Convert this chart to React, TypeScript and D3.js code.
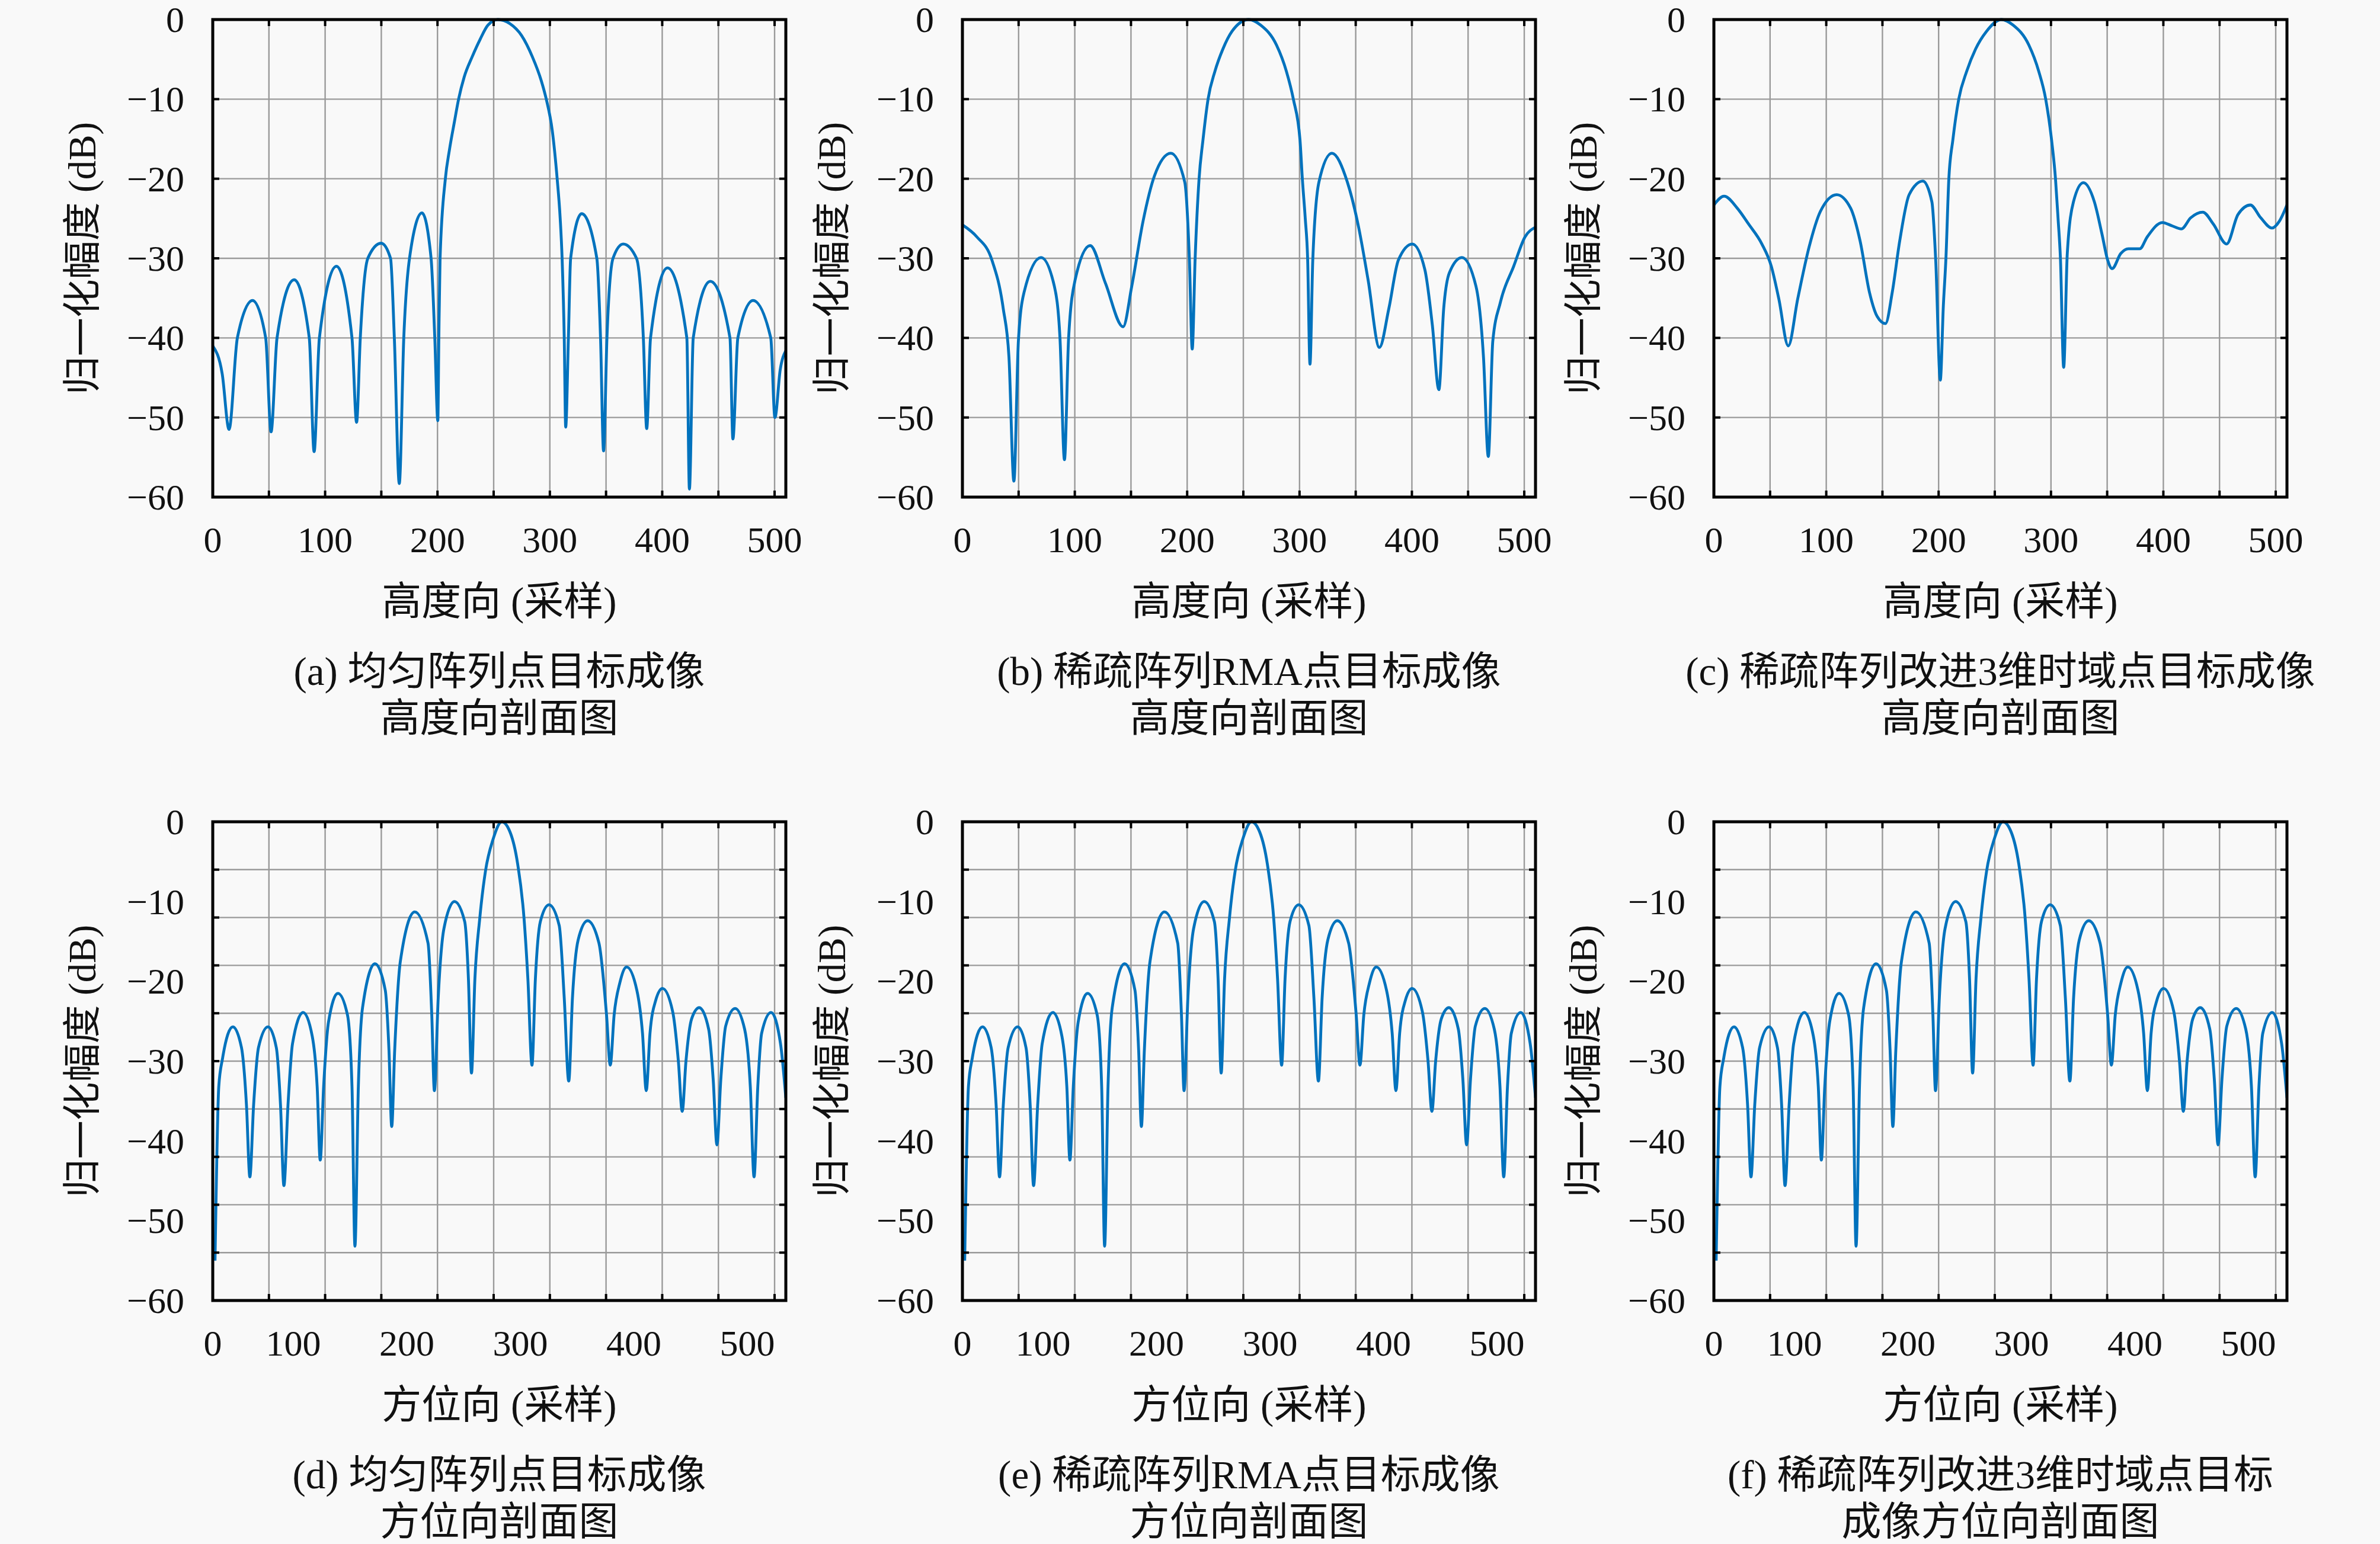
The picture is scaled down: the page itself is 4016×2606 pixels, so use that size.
import * as d3 from "d3";

// canvas and panel geometry (px)
const W = 4016;
const H = 2606;
const colLeft = [359, 1624, 2892];
const plotW = 967;
const rowTop = [33, 1387];
const plotH = [806, 808];

const FONT = "'Liberation Serif', 'Noto Sans CJK SC', serif";
const LINE = "#0072BD";

// ---- axes ----
// the grid/tick-mark positions are the same in every panel
const gridDomain = [0, 510];
const xGridValues = [0, 50, 100, 150, 200, 250, 300, 350, 400, 450, 500];
const elevDomain = [0, 510];
const aziDomain = [29, 534];
const elevXTicks = [0, 100, 200, 300, 400, 500];
const aziXTicks = [100, 200, 300, 400, 500];
const yTickValues = [0, -10, -20, -30, -40, -50, -60];
const elevYGrid = [0, -10, -20, -30, -40, -50, -60];
const aziYGrid = [0, -6, -12, -18, -24, -30, -36, -42, -48, -54, -60];

// ---- profiles: [sample, dB] ----
const elevationUniform: [number, number][] = [
  [0, -41.0], [8.4, -44.5], [14.5, -51.5],
  [21.9, -40], [35.4, -35.3], [47.1, -40], [51.9, -51.8],
  [57.2, -40], [72.4, -32.7], [85.9, -40], [90.2, -54.3],
  [94.9, -40], [110.1, -31.0], [123.9, -40], [128.0, -50.6],
  [131.3, -40], [138.0, -30], [149.8, -28.1], [158.2, -30], [161.6, -40], [166.0, -58.3],
  [170.0, -40], [175.1, -30], [186.2, -24.3], [194.3, -30], [197.6, -40], [200.3, -50.4],
  [201.2, -40], [202.3, -30], [207.0, -20], [210.6, -16.4], [215.0, -12.9], [218.8, -10],
  [223.8, -7.2], [230.8, -4.7], [237.9, -2.5], [244.9, -0.7], [253.7, 0], [264.3, -0.5],
  [274.8, -2], [284.5, -4.7], [292.4, -7.7], [296.8, -10], [302.1, -13.9], [306.5, -20],
  [309.2, -25], [310.9, -30], [312.8, -40], [314.1, -51.2],
  [316.5, -40], [318.5, -30], [328.3, -24.4], [341.8, -30], [345.1, -40], [347.8, -54.2],
  [350.8, -40], [356.2, -30], [365.3, -28.2], [377.1, -30], [383.2, -40], [386.2, -51.4],
  [389.6, -40], [404.7, -31.2], [421.9, -40], [424.2, -59],
  [427.6, -40], [442.8, -32.9], [460.3, -40], [462.9, -52.7],
  [467.3, -40], [480.8, -35.3], [496.6, -40], [500.3, -50],
  [505, -44], [510, -41.6],
];

const elevationRMA: [number, number][] = [
  [0, -25.8], [12.8, -27.3], [26.2, -30.2], [36.3, -36.3], [41.4, -42.4], [45.8, -58],
  [49.8, -40.4], [54.8, -34.3], [70.0, -29.9], [81.8, -33.5], [86.8, -40], [90.8, -55.3],
  [94.5, -40], [100.3, -32.7], [113.7, -28.4], [127.2, -33.1], [143.0, -38.6],
  [150.7, -33.5], [160.8, -25.3], [171.0, -19.6], [185.5, -16.8], [197.8, -20.4],
  [202.0, -30.2], [204.5, -41.4],
  [207.1, -30], [210.6, -20], [214.1, -15.1], [218.6, -10], [224.7, -6.5], [231.8, -3.7],
  [239.8, -1.5], [254.8, 0], [265.4, -0.7], [279.5, -3.2], [288.3, -6.5], [294.5, -10],
  [300.4, -15.1], [302.5, -20], [305.1, -25], [307.2, -30], [309.3, -43.3],
  [311.8, -30.2], [317.3, -20.4], [328.8, -16.8], [342.5, -20.4], [352.6, -26.1],
  [361.0, -32.7], [371.1, -41.2], [379.5, -36.3], [388.0, -30.2], [400.4, -28.2],
  [411.5, -31.4], [418.2, -38.4], [424.0, -46.5],
  [428.3, -36.3], [433.4, -31.8], [444.5, -29.9], [457.0, -33.5], [463.7, -42.4], [468.0, -54.9],
  [472.0, -40.4], [478.8, -35.5], [490.6, -31], [500.7, -27.3], [510, -26.1],
];

const elevationImproved: [number, number][] = [
  [0, -23.3], [9.1, -22.2], [20.8, -23.7], [30.9, -25.7], [42.7, -28.2], [51.1, -31],
  [57.8, -35.1], [66.2, -41], [74.6, -35.1], [84.7, -28.6], [94.8, -24.1], [109.3, -22],
  [121.7, -23.7], [130.1, -27.8], [138.5, -34.3], [145.3, -37.3], [152.7, -38.2],
  [158.7, -34.3], [165.4, -27.8], [173.8, -22], [186.0, -20.3], [194.0, -22.9],
  [197.4, -30.2], [201.5, -45.3],
  [204.2, -36], [206.5, -30], [209.1, -20], [212.7, -15.1], [217.9, -10], [225.0, -6.5],
  [232.9, -3.7], [242.5, -1.5], [255.7, 0], [266.3, -0.7], [280.3, -3.2], [289.1, -6.5],
  [295.3, -10], [300.5, -15.1], [304.0, -20], [306.3, -25], [308.4, -30], [311.3, -43.7],
  [314.5, -29.4], [320.0, -22.9], [328.8, -20.5], [338.6, -22.9], [345.3, -26.9],
  [350.4, -30.2], [354.4, -31.3], [362.1, -29.4], [368.9, -28.8], [379.0, -28.8],
  [385.7, -27.3], [399.1, -25.5], [407.5, -25.9], [416.0, -26.3], [424.4, -24.9],
  [435.1, -24.2], [444.5, -25.7], [456.3, -28.2], [466.4, -24.5], [477.5, -23.3],
  [486.6, -24.9], [496.6, -26.2], [503.4, -25.3], [510, -23.3],
];

// the three azimuth profiles (d), (e), (f) coincide in the figure
const azimuthProfile: [number, number][] = [
  [31, -55], [34.3, -33.2], [37.7, -29.6], [46.7, -25.7], [54.3, -28.3], [58.7, -35.5], [61.7, -44.5],
  [65.0, -35.5], [69.3, -28.3], [77.7, -25.7], [85.0, -28.3], [88.7, -35.5], [91.7, -45.6],
  [95.3, -35.5], [99.3, -27.8], [108.7, -23.9], [116.7, -26.9], [121.0, -33.2], [123.7, -42.4],
  [126.7, -33.2], [131.0, -25.1], [139.3, -21.5], [147.7, -24.2], [151.7, -33.2], [154.3, -53.2],
  [157.3, -33.2], [161.0, -23.3], [172.0, -17.8], [181.0, -21.1], [184.3, -28.7], [186.7, -38.2],
  [189.3, -28.7], [194.3, -17.5], [207.0, -11.3], [218.7, -15.2], [222.0, -24.2], [224.3, -33.7],
  [227.7, -22], [232.7, -13.4], [242.0, -10], [251.0, -12.5], [254.3, -19.7], [257.0, -31.5],
  [260.0, -19.7], [264.3, -12.1], [269.3, -6.2], [276.0, -2.2], [283.7, 0], [291.0, -1.3],
  [297.7, -5.3], [303.3, -12.1], [306.7, -19.7], [310.3, -30.5],
  [313.3, -19.7], [317.7, -12.5], [325.3, -10.4], [334.3, -13], [338.7, -22], [342.7, -32.5],
  [346.0, -22], [351.0, -14.8], [359.3, -12.4], [369.3, -15.2], [376.0, -24.2], [379.3, -30.5],
  [382.7, -24.2], [387.7, -20.2], [393.7, -18.2], [402.7, -21.1], [407.7, -26.5], [411.0, -33.7],
  [414.3, -26.5], [419.3, -22.4], [425.3, -20.9], [434.3, -23.8], [439.3, -30], [442.7, -36.3],
  [446.0, -30], [451.0, -24.7], [457.7, -23.3], [466.0, -26], [470.0, -32.3], [473.3, -40.5],
  [476.7, -32.3], [481.0, -25.6], [489.3, -23.4], [497.7, -26], [502.7, -33.2], [506.0, -44.5],
  [509.3, -33.2], [512.7, -26.5], [521.0, -23.9], [529.3, -27.8], [534, -34.6],
];

const yLabel = "归一化幅度 (dB)";
const xLabels = ["高度向 (采样)", "方位向 (采样)"];

const panels = [
  { id: "a", row: 0, col: 0, data: elevationUniform, caption: ["(a) 均匀阵列点目标成像", "高度向剖面图"] },
  { id: "b", row: 0, col: 1, data: elevationRMA, caption: ["(b) 稀疏阵列RMA点目标成像", "高度向剖面图"] },
  { id: "c", row: 0, col: 2, data: elevationImproved, caption: ["(c) 稀疏阵列改进3维时域点目标成像", "高度向剖面图"] },
  { id: "d", row: 1, col: 0, data: azimuthProfile, caption: ["(d) 均匀阵列点目标成像", "方位向剖面图"] },
  { id: "e", row: 1, col: 1, data: azimuthProfile, caption: ["(e) 稀疏阵列RMA点目标成像", "方位向剖面图"] },
  { id: "f", row: 1, col: 2, data: azimuthProfile, caption: ["(f) 稀疏阵列改进3维时域点目标", "成像方位向剖面图"] },
];

const fmt = (v: number) => (v < 0 ? "\u2212" + Math.abs(v) : String(v));

function Panel({ p }: { p: (typeof panels)[number] }) {
  const x0 = colLeft[p.col];
  const y0 = rowTop[p.row];
  const h = plotH[p.row];
  const x1 = x0 + plotW;
  const y1 = y0 + h;
  const top = p.row === 0;

  const gx = d3.scaleLinear().domain(gridDomain).range([x0, x1]);
  const x = d3.scaleLinear().domain(top ? elevDomain : aziDomain).range([x0, x1]);
  const y = d3.scaleLinear().domain([-60, 0]).range([y1, y0]);
  const yGrid = top ? elevYGrid : aziYGrid;

  const path = d3
    .line<[number, number]>()
    .x((d) => x(d[0]))
    .y((d) => y(d[1]))
    .curve(d3.curveMonotoneX)(p.data);

  const tickLen = 11;
  const cx = (x0 + x1) / 2;
  const xTicks = top ? elevXTicks : aziXTicks;

  return (
    <g>
      <clipPath id={`clip-${p.id}`}>
        <rect x={x0} y={y0 - 3} width={plotW} height={h + 6} />
      </clipPath>
      {/* grid */}
      {xGridValues.map((v) => (
        <line key={`gx${v}`} x1={gx(v)} x2={gx(v)} y1={y0} y2={y1} stroke="#9a9a9a" strokeWidth={2.4} />
      ))}
      {yGrid.map((v) => (
        <line key={`gy${v}`} x1={x0} x2={x1} y1={y(v)} y2={y(v)} stroke="#9a9a9a" strokeWidth={2.4} />
      ))}
      {/* profile */}
      <path d={path || ""} fill="none" stroke={LINE} strokeWidth={4.8} strokeLinejoin="round" clipPath={`url(#clip-${p.id})`} />
      {/* inward tick marks */}
      {xGridValues.map((v) => (
        <g key={`tx${v}`} stroke="#000" strokeWidth={4}>
          <line x1={gx(v)} x2={gx(v)} y1={y1} y2={y1 - tickLen} />
          <line x1={gx(v)} x2={gx(v)} y1={y0} y2={y0 + tickLen} />
        </g>
      ))}
      {yGrid.map((v) => (
        <g key={`ty${v}`} stroke="#000" strokeWidth={4}>
          <line x1={x0} x2={x0 + tickLen} y1={y(v)} y2={y(v)} />
          <line x1={x1} x2={x1 - tickLen} y1={y(v)} y2={y(v)} />
        </g>
      ))}
      <rect x={x0} y={y0} width={plotW} height={h} fill="none" stroke="#000" strokeWidth={5} />
      {/* tick labels */}
      <g fontFamily={FONT} fontSize={62} fill="#111">
        {yTickValues.map((v) => (
          <text key={`ly${v}`} x={x0 - 48} y={y(v)} textAnchor="end" dominantBaseline="central">
            {fmt(v)}
          </text>
        ))}
        {!top && (
          <text x={x0} y={y1 + 72} textAnchor="middle" dominantBaseline="central">
            0
          </text>
        )}
        {xTicks.map((v) => (
          <text key={`lx${v}`} x={x(v)} y={y1 + 72} textAnchor="middle" dominantBaseline="central">
            {fmt(v)}
          </text>
        ))}
      </g>
      {/* labels and caption */}
      <g fontFamily={FONT} fontSize={67} fill="#111" textAnchor="middle" dominantBaseline="central">
        <text fontSize={65} transform={`translate(${x0 - 220},${(y0 + y1) / 2}) rotate(-90)`}>{yLabel}</text>
        <text x={cx} y={y1 + 176}>{xLabels[p.row]}</text>
        <text x={cx} y={y1 + 294}>{p.caption[0]}</text>
        <text x={cx} y={y1 + 373}>{p.caption[1]}</text>
      </g>
    </g>
  );
}

export default function App() {
  return (
    <svg
      width={W}
      height={H}
      viewBox={`0 0 ${W} ${H}`}
      style={{ position: "absolute", left: 0, top: 0, display: "block" }}
    >
      <rect width={W} height={H} fill="#f9f9f9" />
      {panels.map((p) => (
        <Panel key={p.id} p={p} />
      ))}
    </svg>
  );
}
